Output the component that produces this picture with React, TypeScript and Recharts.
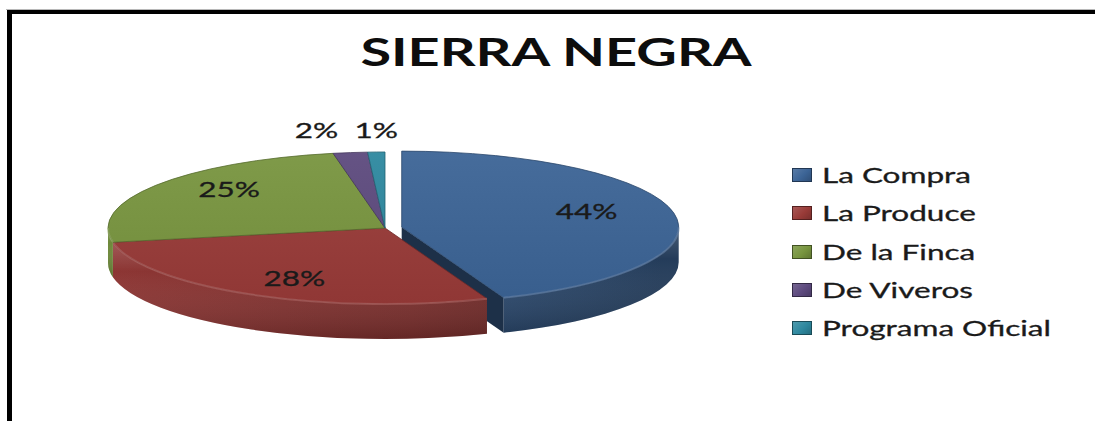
import React from 'react';
import { PieChart, Pie, Cell, Legend } from 'recharts';

// ---------- data ----------
const categories = ['La Compra', 'La Produce', 'De la Finca', 'De Viveros', 'Programa Oficial'];
const shares = [44, 28, 25, 2, 1];
const sliceColors = ['#3c6496', '#993b38', '#78953f', '#5d4a7e', '#2e889f'];
const chartTitle = 'SIERRA NEGRA';
const explodedCategory = 'La Compra';

const data = categories.map((name, i) => ({ name, value: shares[i] }));

// ---------- layout ----------
const W = 1095;
const H = 421;
const CX = 385;
const CY = 228;
const RX = 277;
const TILT = 0.2744; // ry / rx
const DEPTH = 35;
const EXPLODE = 17;
const FONT = 'Lato, "Open Sans", sans-serif';
const STRETCH = 1.5;

const rad = (a: number) => (a * Math.PI) / 180;

function adjust(hex: string, f: number): string {
  const n = parseInt(hex.slice(1), 16);
  let r = (n >> 16) & 255, g = (n >> 8) & 255, b = n & 255;
  const fn = (c: number) => (f <= 1 ? c * f : c + (255 - c) * (f - 1));
  r = Math.round(Math.min(255, fn(r)));
  g = Math.round(Math.min(255, fn(g)));
  b = Math.round(Math.min(255, fn(b)));
  return `rgb(${r},${g},${b})`;
}

function ept(cx: number, cy: number, rx: number, ry: number, a: number): [number, number] {
  return [cx + rx * Math.cos(rad(a)), cy - ry * Math.sin(rad(a))];
}

function frontRanges(lo: number, hi: number): [number, number][] {
  const res: [number, number][] = [];
  const spans: [number, number][] = [[-540, -360], [-180, 0], [180, 360]];
  for (const [a, b] of spans) {
    const s = Math.max(lo, a);
    const e = Math.min(hi, b);
    if (e > s) res.push([s, e]);
  }
  return res;
}

function Slice3D(props: any) {
  const { cx, cy, outerRadius, startAngle, endAngle, fill } = props;
  const name = props?.payload?.name ?? props.name;
  const idx = categories.indexOf(name);
  const base = idx >= 0 ? sliceColors[idx] : fill;
  const rx = outerRadius;
  const ry = outerRadius * TILT;
  const hi = Math.max(startAngle, endAngle);
  const lo = Math.min(startAngle, endAngle);
  const mid = (hi + lo) / 2;
  const exploded = name === explodedCategory;
  const ox = exploded ? EXPLODE * Math.cos(rad(mid)) : 0;
  const oy = exploded ? -EXPLODE * Math.sin(rad(mid)) * TILT : 0;
  const c: [number, number] = [cx + ox, cy + oy];
  const P = (a: number) => ept(c[0], c[1], rx, ry, a);
  const large = hi - lo > 180 ? 1 : 0;
  const pHi = P(hi);
  const pLo = P(lo);
  const id = `sl${idx}`;

  const top = `M${c[0]},${c[1]} L${pHi[0]},${pHi[1]} A${rx},${ry} 0 ${large} 1 ${pLo[0]},${pLo[1]} Z`;

  const walls = frontRanges(lo, hi).map(([s, e]) => {
    const ps = P(s), pe = P(e);
    const lg = e - s > 180 ? 1 : 0;
    return {
      d: `M${pe[0]},${pe[1]} A${rx},${ry} 0 ${lg} 1 ${ps[0]},${ps[1]} L${ps[0]},${ps[1] + DEPTH} A${rx},${ry} 0 ${lg} 0 ${pe[0]},${pe[1] + DEPTH} Z`,
      rim: `M${pe[0]},${pe[1]} A${rx},${ry} 0 ${lg} 1 ${ps[0]},${ps[1]}`,
    };
  });

  const cuts: string[] = [];
  if (exploded) {
    if (Math.cos(rad(lo)) > 0.001) {
      cuts.push(`M${c[0]},${c[1]} L${pLo[0]},${pLo[1]} L${pLo[0]},${pLo[1] + DEPTH} L${c[0]},${c[1] + DEPTH} Z`);
    }
    if (Math.cos(rad(hi)) < -0.001) {
      cuts.push(`M${c[0]},${c[1]} L${pHi[0]},${pHi[1]} L${pHi[0]},${pHi[1] + DEPTH} L${c[0]},${c[1] + DEPTH} Z`);
    }
  }

  return (
    <g>
      <defs>
        <linearGradient id={`${id}-top`} gradientUnits="userSpaceOnUse" x1={0} y1={cy - ry} x2={0} y2={cy + ry}>
          <stop offset="0%" stopColor={adjust(base, 1.05)} />
          <stop offset="100%" stopColor={adjust(base, 0.94)} />
        </linearGradient>
        <linearGradient id={`${id}-wall`} gradientUnits="userSpaceOnUse" x1={cx - rx} y1={0} x2={cx + rx} y2={0}>
          <stop offset="0%" stopColor={adjust(base, 0.92)} />
          <stop offset="55%" stopColor={adjust(base, 0.8)} />
          <stop offset="100%" stopColor={adjust(base, 0.6)} />
        </linearGradient>
        <linearGradient id={`${id}-shade`} x1={0} y1={0} x2={0} y2={1}>
          <stop offset="0%" stopColor="#ffffff" stopOpacity={0.18} />
          <stop offset="30%" stopColor="#ffffff" stopOpacity={0} />
          <stop offset="100%" stopColor="#000000" stopOpacity={0.18} />
        </linearGradient>
      </defs>
      {cuts.map((d, i) => (
        <path key={`c${i}`} d={d} fill={adjust(base, 0.48)} />
      ))}
      {walls.map((w, i) => (
        <g key={`w${i}`}>
          <path d={w.d} fill={`url(#${id}-wall)`} />
          <path d={w.d} fill={`url(#${id}-shade)`} />
        </g>
      ))}
      <path d={top} fill={`url(#${id}-top)`} stroke={adjust(base, 0.72)} strokeWidth={0.8} strokeLinejoin="round" />
      {walls.map((w, i) => (
        <path key={`r${i}`} d={w.rim} fill="none" stroke={adjust(base, 1.25)} strokeOpacity={0.55} strokeWidth={2} />
      ))}
    </g>
  );
}

function renderLabel(props: any) {
  const { cx, cy, midAngle, outerRadius, percent, name } = props;
  const rx = outerRadius;
  const ry = outerRadius * TILT;
  const exploded = name === explodedCategory || props?.payload?.name === explodedCategory;
  const ox = exploded ? EXPLODE * Math.cos(rad(midAngle)) : 0;
  const oy = exploded ? -EXPLODE * Math.sin(rad(midAngle)) * TILT : 0;
  const txt = `${Math.round(percent * 100)}%`;
  let x: number, y: number;
  let anchor: 'middle' | 'end' = 'middle';
  if (percent < 0.05) {
    const cosA = Math.cos(rad(midAngle));
    x = cx + rx * cosA;
    y = cy - ry - 22;
    if (cosA < -0.1) {
      anchor = 'end';
      x -= 12;
    }
  } else {
    x = cx + ox + rx * 0.68 * Math.cos(rad(midAngle));
    y = cy + oy - ry * 0.82 * Math.sin(rad(midAngle)) - 4;
  }
  return (
    <text
      x={0}
      y={0}
      dy="0.36em"
      transform={`translate(${x},${y}) scale(${STRETCH},1)`}
      textAnchor={anchor}
      fontFamily={FONT}
      fontSize={21}
      fill="#1a1a1a"
      stroke="#1a1a1a"
      strokeWidth={0.3}
    >
      {txt}
    </text>
  );
}

function LegendContent() {
  return (
    <div style={{ display: 'flex', flexDirection: 'column' }}>
      {categories.map((name, i) => {
        const color = sliceColors[i];
        return (
          <div key={name} style={{ height: 38.3, display: 'flex', alignItems: 'center' }}>
            <span
              style={{
                display: 'inline-block',
                width: 20,
                height: 14,
                boxSizing: 'border-box',
                border: `1px solid ${adjust(color, 0.55)}`,
                background: `linear-gradient(135deg, ${adjust(color, 1.15)}, ${color} 55%, ${adjust(color, 0.8)})`,
              }}
            />
            <span
              style={{
                display: 'inline-block',
                marginLeft: 10,
                fontFamily: FONT,
                fontSize: 21,
                lineHeight: '38.3px',
                color: '#1a1a1a',
                whiteSpace: 'nowrap',
                transform: `scaleX(${STRETCH})`,
                transformOrigin: 'left center',
                WebkitTextStroke: '0.3px #1a1a1a',
              }}
            >
              {name}
            </span>
          </div>
        );
      })}
    </div>
  );
}

export default function App() {
  return (
    <div
      style={{
        position: 'fixed',
        left: 0,
        top: 0,
        width: W,
        height: H,
        background: '#ffffff',
        overflow: 'hidden',
      }}
    >
      <div
        style={{
          position: 'absolute',
          left: 6,
          top: 9,
          width: 1089,
          height: 0,
          borderTop: '1px solid #b8b8b8',
        }}
      />
      <div style={{ position: 'absolute', left: 7, top: 10, width: 1088, height: 4, background: '#000' }} />
      <div style={{ position: 'absolute', left: 7, top: 10, width: 5, height: 411, background: '#000' }} />
      <div
        style={{
          position: 'absolute',
          left: 256,
          top: 32,
          width: 600,
          textAlign: 'center',
          fontFamily: FONT,
          fontWeight: 700,
          fontSize: 38,
          lineHeight: 1,
          color: '#0d0d0d',
          whiteSpace: 'nowrap',
          transform: 'scaleX(1.47)',
          transformOrigin: 'center center',
        }}
      >
        {chartTitle}
      </div>
      <div style={{ position: 'absolute', left: 0, top: 0, width: W, height: H }}>
        <PieChart width={W} height={H} margin={{ top: 0, right: 0, bottom: 0, left: 0 }}>
          <Pie
            data={data}
            dataKey="value"
            nameKey="name"
            cx={CX}
            cy={CY}
            outerRadius={RX}
            startAngle={90}
            endAngle={-270}
            stroke="none"
            isAnimationActive={false}
            labelLine={false}
            label={renderLabel}
            shape={Slice3D}
            activeShape={Slice3D}
            inactiveShape={Slice3D}
          >
            {data.map((d, i) => (
              <Cell key={d.name} fill={sliceColors[i]} />
            ))}
          </Pie>
          <Legend
            content={LegendContent}
            wrapperStyle={{ position: 'absolute', left: 792, top: 156, width: 290, height: 200 }}
          />
        </PieChart>
      </div>
      {/* right margin area kept clean */}
      <div
        style={{
          position: 'absolute',
          left: 1075,
          top: 14,
          width: 20,
          height: 407,
          background: '#ffffff',
          zIndex: 50,
        }}
      />
    </div>
  );
}
